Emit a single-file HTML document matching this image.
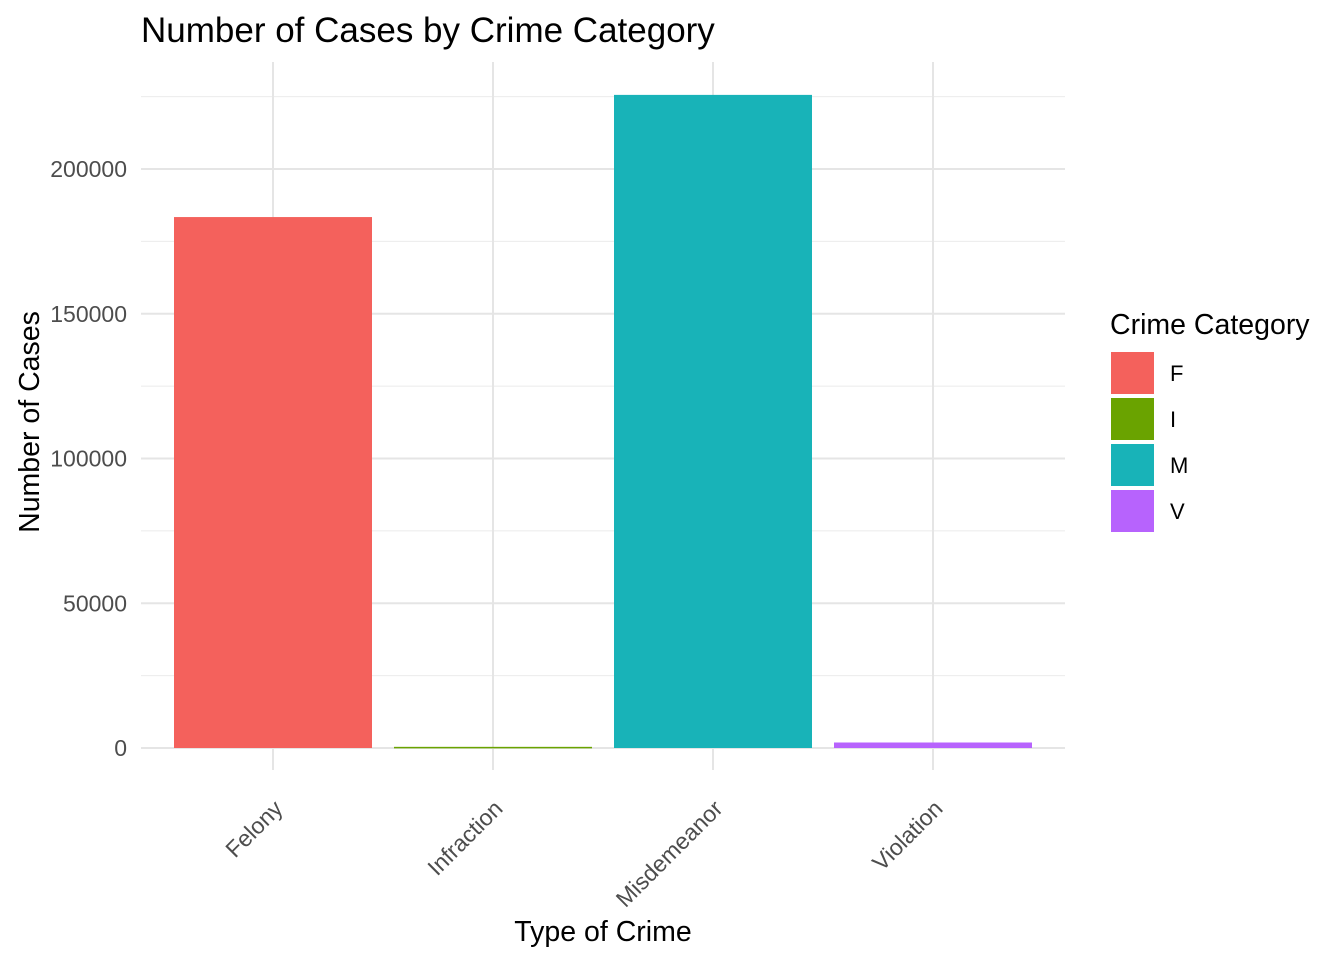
<!DOCTYPE html>
<html><head><meta charset="utf-8"><style>
body{margin:0;background:#fff;}
svg text{font-family:"Liberation Sans",Arial,sans-serif;}
</style></head><body>
<svg id="chart" width="1344" height="960" xmlns="http://www.w3.org/2000/svg">
<text x="141" y="42" font-size="35" fill="#000">Number of Cases by Crime Category</text>
<g id="grid"></g><g id="bars"></g><g id="labels"></g>
<text x="603" y="941" font-size="28.5" text-anchor="middle" fill="#000">Type of Crime</text>
<text transform="translate(39,422) rotate(-90)" font-size="28.5" text-anchor="middle" fill="#000">Number of Cases</text>
<g id="legend"></g>
</svg>
<script>
const categories=["Felony","Infraction","Misdemeanor","Violation"];
const codes=["F","I","M","V"];
const values=[183400,400,225600,1900];
const colors=["#F4615C","#6AA300","#18B3B8","#B763FD"];
const yTicks=[0,50000,100000,150000,200000];
const yTickLabels=["0","50000","100000","150000","200000"];
const NS="http://www.w3.org/2000/svg";
const L=141,R=1065,T=62,B=770;
function y(v){return 748-v*(579/200000);}
function x(i){return 273+i*220;}
function mk(tag,attrs,parent){const e=document.createElementNS(NS,tag);for(const k in attrs)e.setAttribute(k,attrs[k]);parent.appendChild(e);return e;}
const grid=document.getElementById('grid'),bars=document.getElementById('bars'),labels=document.getElementById('labels'),legend=document.getElementById('legend');
for(let i=0;i<yTicks.length-1;i++){const m=(yTicks[i]+yTicks[i+1])/2;const l=mk('line',{x1:L,x2:R,y1:y(m),y2:y(m),stroke:'#ebebeb','stroke-width':1},grid);

}
{const m=yTicks[yTicks.length-1]+25000;const l=mk('line',{x1:L,x2:R,y1:y(m),y2:y(m),stroke:'#ebebeb','stroke-width':1},grid);

}
yTicks.forEach((t,i)=>{const l=mk('line',{x1:L,x2:R,y1:y(t),y2:y(t),stroke:'#e5e5e5','stroke-width':2},grid);


const tx=mk('text',{x:127,y:y(t)+8,'font-size':23,fill:'#4d4d4d','text-anchor':'end'},labels);tx.textContent=yTickLabels[i];

});
categories.forEach((c,i)=>{const l=mk('line',{x1:x(i),x2:x(i),y1:T,y2:B,stroke:'#e5e5e5','stroke-width':2},grid);


const r=mk('rect',{x:x(i)-99,y:y(values[i]),width:198,height:Math.max(1.5,748-y(values[i])),fill:colors[i]},bars);


const tx=mk('text',{transform:`translate(${x(i)+11},${810}) rotate(-45)`,'font-size':23,fill:'#4d4d4d','text-anchor':'end'},labels);tx.textContent=c;

});
const lt=mk('text',{x:1110,y:334,'font-size':28.5,fill:'#000'},legend);lt.textContent='Crime Category';


codes.forEach((c,i)=>{const r=mk('rect',{x:1111,y:352+i*46,width:43,height:42,fill:colors[i]},legend);


const t=mk('text',{x:1170,y:381+i*46,'font-size':22,fill:'#000'},legend);t.textContent=c;

});
</script>
</body></html>
